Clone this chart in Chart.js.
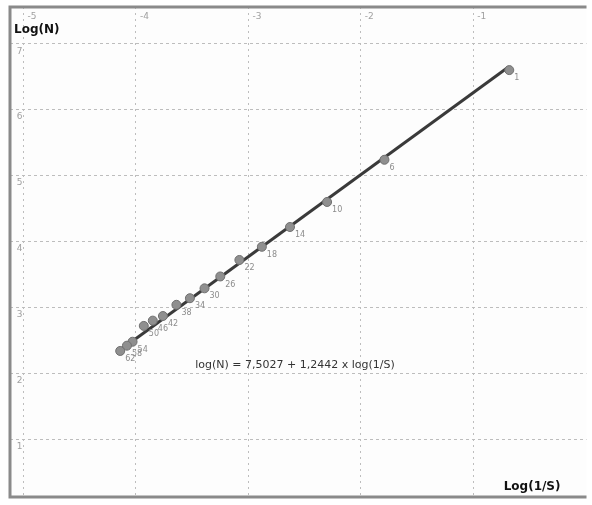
<!DOCTYPE html>
<html>
<head>
<meta charset="utf-8">
<script src="https://cdn.jsdelivr.net/npm/chart.js@4.4.1/dist/chart.umd.min.js"></script>
<style>
  body { margin: 0; background: #fff; }
  #wrap { width: 592px; height: 505px; }
</style>
</head>
<body>
<div id="wrap"><canvas id="chart"></canvas></div>
<script>
// measured points: log(1/S) and log(N), with their sample numbers
const logInvS = [-0.68, -1.79, -2.30, -2.63, -2.88, -3.08, -3.25, -3.39, -3.52, -3.64, -3.76, -3.85, -3.93, -4.03, -4.08, -4.14];
const logN    = [6.60, 5.24, 4.60, 4.22, 3.92, 3.72, 3.47, 3.29, 3.14, 3.04, 2.87, 2.80, 2.72, 2.48, 2.42, 2.34];
const pointLabels = ['1', '6', '10', '14', '18', '22', '26', '30', '34', '38', '42', '46', '50', '54', '58', '62'];

// fitted line  log(N) = a + b * log(1/S)
const intercept = 7.5027;
const slope = 1.2442;
const fitRange = [-4.16, -0.69];
const equationText = 'log(N) = 7,5027 + 1,2442 x log(1/S)';

const xTicks = [-5, -4, -3, -2, -1];
const yTicks = [1, 2, 3, 4, 5, 6, 7];

const points = logInvS.map((x, i) => ({ x: x, y: logN[i] }));
const fitLine = fitRange.map(x => ({ x: x, y: intercept + slope * x }));

// draws frame, tick labels, axis titles, point labels and the equation
const decorations = {
    id: 'decorations',
    beforeDraw(chart) {
        const { ctx, chartArea: a } = chart;
        ctx.save();
        ctx.fillStyle = '#fdfdfd';
        ctx.fillRect(a.left, a.top, a.right - a.left, a.bottom - a.top);
        ctx.restore();
    },
    afterDatasetsDraw(chart) {
        const { ctx, chartArea: a, scales } = chart;
        ctx.save();

        // frame
        ctx.strokeStyle = '#8a8a8a';
        ctx.lineWidth = 3;
        ctx.beginPath();
        ctx.moveTo(a.right, a.top);
        ctx.lineTo(a.left, a.top);
        ctx.lineTo(a.left, a.bottom);
        ctx.lineTo(a.right, a.bottom);
        ctx.stroke();

        // tick labels
        ctx.fillStyle = '#a0a0a0';
        ctx.font = '9px "DejaVu Sans"';
        ctx.textBaseline = 'top';
        ctx.textAlign = 'left';
        xTicks.forEach(t => {
            ctx.fillText(String(t), scales.x.getPixelForValue(t) + 4, a.top + 5);
        });
        ctx.textAlign = 'right';
        yTicks.forEach(t => {
            ctx.fillText(String(t), scales.x.getPixelForValue(-5) - 1, scales.y.getPixelForValue(t) + 3);
        });

        // point labels
        ctx.fillStyle = '#8c8c8c';
        ctx.font = '8px "DejaVu Sans"';
        ctx.textAlign = 'left';
        points.forEach((p, i) => {
            ctx.fillText(pointLabels[i], scales.x.getPixelForValue(p.x) + 5, scales.y.getPixelForValue(p.y) + 4);
        });

        // axis titles
        ctx.fillStyle = '#111';
        ctx.font = 'bold 12px "DejaVu Sans"';
        ctx.textAlign = 'left';
        ctx.textBaseline = 'middle';
        ctx.fillText('Log(N)', a.left + 4, a.top + 23);
        ctx.textAlign = 'right';
        ctx.fillText('Log(1/S)', a.right - 26, a.bottom - 10);

        // equation
        ctx.fillStyle = '#333';
        ctx.font = '11px "DejaVu Sans"';
        ctx.textAlign = 'center';
        ctx.fillText(equationText, 295, 365);

        ctx.restore();
    }
};

new Chart(document.getElementById('chart'), {
    type: 'scatter',
    data: {
        datasets: [
            {
                label: 'Fit',
                data: fitLine,
                showLine: true,
                borderColor: '#3a3a3a',
                borderWidth: 3,
                pointRadius: 0,
                order: 2
            },
            {
                label: 'Samples',
                data: points,
                pointRadius: 4.5,
                pointBackgroundColor: '#8f8f8f',
                pointBorderColor: '#707070',
                pointBorderWidth: 1,
                order: 1
            }
        ]
    },
    plugins: [decorations],
    options: {
        responsive: true,
        maintainAspectRatio: false,
        animation: false,
        layout: { padding: { left: 10, top: 7, right: 4, bottom: 8 } },
        plugins: {
            legend: { display: false },
            tooltip: { enabled: false }
        },
        scales: {
            x: {
                type: 'linear',
                min: -5.12,
                max: 0.007,
                afterBuildTicks: axis => { axis.ticks = xTicks.map(v => ({ value: v })); },
                ticks: { display: false },
                border: { display: false, dash: [2, 4] },
                grid: { color: '#bdbdbd', lineWidth: 1, drawTicks: false }
            },
            y: {
                type: 'linear',
                min: 0.125,
                max: 7.557,
                afterBuildTicks: axis => { axis.ticks = yTicks.map(v => ({ value: v })); },
                ticks: { display: false },
                border: { display: false, dash: [3, 3] },
                grid: { color: '#bdbdbd', lineWidth: 1, drawTicks: false }
            }
        }
    }
});
</script>
</body>
</html>
